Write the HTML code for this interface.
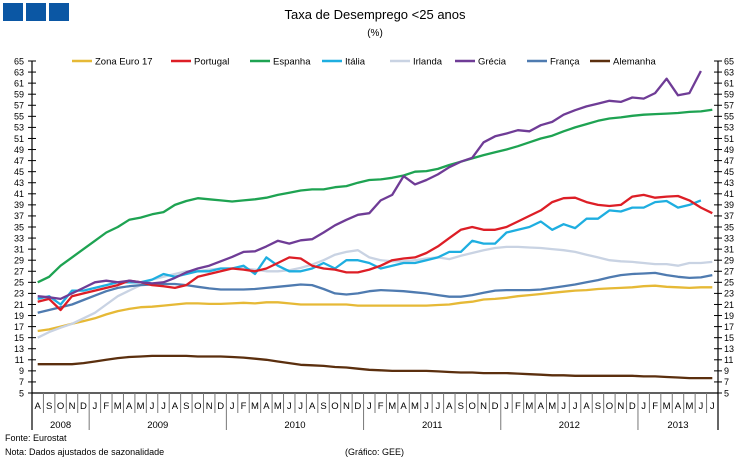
<!DOCTYPE html>
<html><head><meta charset="utf-8"><style>
body{margin:0;background:#fff;}
svg{display:block;font-family:"Liberation Sans",sans-serif;}
</style></head><body>
<svg id="c" width="747" height="460" xmlns="http://www.w3.org/2000/svg">
<rect x="3" y="3" width="20" height="18" fill="#0b57a4"/>
<rect x="26" y="3" width="20" height="18" fill="#0b57a4"/>
<rect x="49" y="3" width="20" height="18" fill="#0b57a4"/>
<text x="375" y="19" font-size="13" text-anchor="middle" fill="#000">Taxa de Desemprego &lt;25 anos</text>
<text x="375" y="36" font-size="10" text-anchor="middle" fill="#000">(%)</text>
<text x="5" y="441" font-size="9">Fonte: Eurostat</text>
<text x="5" y="455" font-size="9">Nota: Dados ajustados de sazonalidade</text>
<text x="345" y="455" font-size="9">(Gráfico: GEE)</text>
<g id="g"></g>
</svg>
<script>
var g=document.getElementById('g'),NS="http://www.w3.org/2000/svg";
function el(t,a,txt){var e=document.createElementNS(NS,t);for(var k in a)e.setAttribute(k,a[k]);if(txt!=null)e.textContent=txt;g.appendChild(e);return e;}
var L=32,R=718,T=61,B=393;
function Y(v){return B-(v-5)*(B-T)/60;}
var mw=(R-L)/60;
function X(i){return L+(i+0.5)*mw;}
el('line',{x1:L,y1:T,x2:L,y2:430,stroke:'#000','stroke-width':1.2});
el('line',{x1:R,y1:T,x2:R,y2:430,stroke:'#000','stroke-width':1.2});
el('line',{x1:L,y1:B,x2:R,y2:B,stroke:'#000','stroke-width':1.2});
for(var v=5;v<=65;v+=2){var y=Y(v);
 el('line',{x1:L-4,y1:y,x2:L+4,y2:y,stroke:'#000'});
 el('line',{x1:R-4,y1:y,x2:R+4,y2:y,stroke:'#000'});
 el('text',{x:24,y:y+3.3,'font-size':9,'text-anchor':'end'},v);
 el('text',{x:724,y:y+3.3,'font-size':9},v);}
var ms="ASONDJFMAMJJASONDJFMAMJJASONDJFMAMJJASONDJFMAMJJASONDJFMAMJJ";
for(var i=0;i<60;i++){el('text',{x:X(i),y:409,'font-size':9.5,'text-anchor':'middle'},ms[i]);
 if(i>0){var x=L+i*mw;var yb=(ms[i]=='J'&&ms[i-1]=='D')?430:413;el('line',{x1:x,y1:B,x2:x,y2:yb,stroke:'#777'});}}
var yrs=[["2008",0,5],["2009",5,17],["2010",17,29],["2011",29,41],["2012",41,53],["2013",53,60]];
yrs.forEach(function(a){el('text',{x:L+(a[1]+a[2])/2*mw,y:428,'font-size':9.5,'text-anchor':'middle'},a[0]);});
var S=[
["#e6b936",[16.2,16.5,17,17.5,18,18.5,19.2,19.8,20.2,20.5,20.6,20.8,21,21.2,21.2,21.1,21.1,21.2,21.3,21.2,21.4,21.4,21.2,21,21,21,21,21,20.8,20.8,20.8,20.8,20.8,20.8,20.8,20.9,21,21.3,21.5,21.9,22,22.2,22.5,22.7,22.9,23.1,23.3,23.5,23.6,23.8,23.9,24,24.1,24.3,24.4,24.2,24.1,24,24.1,24.1]],
["#5b2f0e",[10.2,10.2,10.2,10.2,10.4,10.7,11,11.3,11.5,11.6,11.7,11.7,11.7,11.7,11.6,11.6,11.6,11.5,11.4,11.2,11,10.7,10.4,10.1,10,9.9,9.7,9.6,9.4,9.2,9.1,9,9,9,9,8.9,8.8,8.7,8.7,8.6,8.6,8.6,8.5,8.4,8.3,8.2,8.2,8.1,8.1,8.1,8.1,8.1,8.1,8,8,7.9,7.8,7.7,7.7,7.7]],
["#c9d3e3",[15,16,16.8,17.5,18.5,19.5,21,22.5,23.5,24.5,25.5,26,26.5,27,27,27.3,27.5,27.5,27.5,27.3,27,27,27.2,27.6,28.2,29,30,30.5,30.8,29.5,29,28.8,28.8,29,29.3,29.5,29.2,29.8,30.3,30.8,31.2,31.4,31.4,31.3,31.2,31,30.8,30.5,30,29.5,29,28.8,28.7,28.5,28.3,28.3,28,28.5,28.5,28.7]],
["#4f7bb0",[19.5,20,20.5,21,21.8,22.6,23.4,24,24.3,24.5,24.6,24.7,24.7,24.5,24.2,23.9,23.7,23.7,23.7,23.8,24,24.2,24.4,24.6,24.5,23.8,23,22.8,23,23.4,23.6,23.5,23.4,23.2,23,22.7,22.4,22.4,22.7,23.1,23.5,23.6,23.6,23.6,23.7,24,24.3,24.6,25,25.4,25.9,26.3,26.5,26.6,26.7,26.3,26,25.8,25.9,26.3]],
["#1eaee0",[22,22.5,21,23.5,23.5,24,24.5,25,25,25,25.5,26.5,26,26.5,27,27,27.5,27.5,28,26.5,29.5,28,27,27,27.5,28.5,27.5,29,29,28.5,27.5,28,28.5,28.5,29,29.5,30.5,30.5,32.5,32,32,34,34.5,35,36,34.5,35.5,34.8,36.5,36.5,38,37.8,38.5,38.5,39.5,39.7,38.5,39,39.8]],
["#dd1e26",[21.5,22,20,22.5,23,23.5,24,24.5,25.3,25,24.5,24.3,24,24.5,26,26.5,27,27.5,27.3,27,27.5,28.5,29.5,29.3,28,27.5,27.3,26.8,26.8,27.3,28,29,29.3,29.5,30.3,31.5,33,34.5,35,34.5,34.5,35,36,37,38,39.5,40.2,40.3,39.5,39,38.8,39,40.5,40.8,40.3,40.5,40.6,39.8,38.5,37.5]],
["#1ea352",[25,26,28,29.5,31,32.5,34,35,36.3,36.7,37.3,37.7,39,39.7,40.2,40,39.8,39.6,39.8,40,40.3,40.8,41.2,41.6,41.8,41.8,42.2,42.4,43,43.5,43.6,43.9,44.3,45,45.1,45.5,46.2,46.8,47.4,48,48.5,49,49.6,50.3,51,51.5,52.3,53,53.6,54.2,54.6,54.8,55.1,55.3,55.4,55.5,55.6,55.8,55.9,56.2]],
["#6f3c96",[22.5,22.3,22,23,24,25,25.3,25,25.3,25,24.8,25,25.8,26.8,27.5,28,28.8,29.6,30.5,30.6,31.5,32.5,32,32.6,32.8,34,35.3,36.3,37.2,37.5,39.8,40.8,44.2,42.7,43.5,44.5,45.8,46.8,47.5,50.3,51.4,51.9,52.5,52.3,53.4,54,55.3,56.1,56.8,57.3,57.8,57.6,58.4,58.2,59.2,61.8,58.8,59.2,63.2]]
];
S.forEach(function(s){var d="";s[1].forEach(function(v,i){d+=(i?"L":"M")+X(i).toFixed(1)+" "+Y(v).toFixed(1);});
 el('path',{d:d,fill:'none',stroke:s[0],'stroke-width':2.3,'stroke-linejoin':'round'});});
var lg=[["Zona Euro 17","#e6b936",72],["Portugal","#dd1e26",171],["Espanha","#1ea352",250],["Itália","#1eaee0",322],["Irlanda","#c9d3e3",390],["Grécia","#6f3c96",455],["França","#4f7bb0",527],["Alemanha","#5b2f0e",590]];
lg.forEach(function(a){el('line',{x1:a[2],y1:61,x2:a[2]+20,y2:61,stroke:a[1],'stroke-width':2.5});
 el('text',{x:a[2]+23,y:64.5,'font-size':9.5},a[0]);});
</script>
</body></html>
